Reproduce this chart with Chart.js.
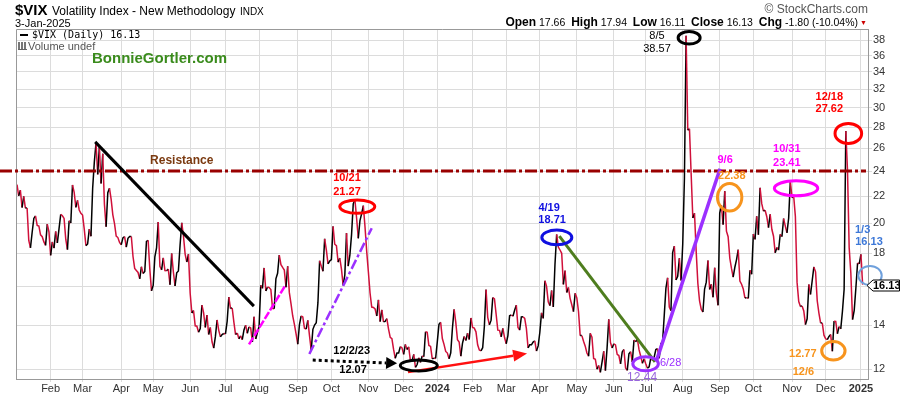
<!DOCTYPE html>
<html>
<head>
<meta charset="utf-8">
<script src="https://cdn.jsdelivr.net/npm/chart.js@4.4.1/dist/chart.umd.min.js"></script>
<style>
body{margin:0;background:#fff;}
#wrap{position:relative;width:900px;height:396px;font-family:Arial,"Liberation Sans",sans-serif;color:#000;}
canvas{position:absolute;left:0;top:0;}
.t{position:absolute;white-space:nowrap;line-height:1;}
.ohlc b{font-size:12px;}
</style>
</head>
<body>
<div id="wrap">
<canvas id="vixChart" width="900" height="396"></canvas>
<div class="t" style="left:15px;top:2px;"><b style="font-size:15px">$VIX</b> <span style="font-size:12px">Volatility Index - New Methodology</span> <span style="font-size:10px">INDX</span></div>
<div class="t" style="left:15px;top:18px;font-size:11px;">3-Jan-2025</div>
<div class="t" style="right:32px;top:3px;font-size:12px;color:#555;">&#169; StockCharts.com</div>
<div class="t ohlc" style="right:42px;top:16px;font-size:10.5px;"><b>Open</b> 17.66 &nbsp;<b>High</b> 17.94 &nbsp;<b>Low</b> 16.11 &nbsp;<b>Close</b> 16.13 &nbsp;<b>Chg</b> -1.80 (-10.04%)</div>
<div class="t" style="left:860px;top:19px;font-size:7px;color:#c00;">&#9660;</div>
<div class="t" style="left:20px;top:30px;font-size:10px;font-family:'DejaVu Sans Mono';"><span style="display:inline-block;width:8px;height:2px;background:#000;vertical-align:middle;margin-right:4px;"></span>$VIX (Daily) 16.13</div>
<div class="t" style="left:18px;top:41px;font-size:11px;color:#555;"><span style="display:inline-block;width:9px;height:7px;border-bottom:1px solid #666;background:linear-gradient(90deg,#777 0 2px,#fff 2px 3px,#777 3px 5px,#fff 5px 6px,#777 6px 8px,#fff 8px);margin-right:1px;"></span>Volume undef</div>
<div class="t" style="left:92px;top:50px;font-size:15px;font-weight:bold;color:#3a8b1c;">BonnieGortler.com</div>
</div>
<script>
// month labels shown on the x axis (first one sits on the left edge and is not drawn)
const monthLabels = ['Jan','Feb','Mar','Apr','May','Jun','Jul','Aug','Sep','Oct','Nov','Dec',
                     '2024','Feb','Mar','Apr','May','Jun','Jul','Aug','Sep','Oct','Nov','Dec','2025'];

// daily closes, one small array per month
const closes2023 = [
  [22.90,22.01,22.46,21.13,21.97,21.09,21.09,18.83,18.35,19.36,20.34,20.52,19.85,19.81,19.20,19.08,18.73,18.51,19.94,19.40],
  [17.87,18.73,18.33,19.43,18.66,19.63,20.63,20.53,20.34,18.91,18.23,20.17,20.02,22.87,22.29,21.14,21.67,20.95,20.70],
  [20.58,19.59,18.49,18.60,19.59,19.11,22.61,24.80,26.52,23.73,26.14,22.99,25.51,21.38,19.75,22.26,22.61,21.74,20.60,19.97,19.12,19.02,18.70],
  [18.55,19.00,19.08,18.40,18.97,19.09,19.09,17.80,17.07,16.95,16.83,16.46,17.17,16.77,16.89,18.76,18.84,17.03,15.78],
  [16.08,17.78,18.34,20.09,17.19,16.98,17.71,16.94,16.93,17.03,16.12,17.99,16.87,16.05,16.81,16.92,18.53,20.03,19.14,17.95,17.46,17.94],
  [15.65,14.60,14.73,13.96,13.94,13.65,13.83,15.01,14.61,13.88,14.50,13.54,13.88,13.20,12.91,13.44,14.25,13.74,13.43,13.54,13.59],
  [13.57,14.18,15.44,14.83,14.86,14.14,13.54,13.61,13.34,13.48,13.30,13.76,13.99,13.60,13.91,13.86,13.19,14.41,13.33,13.63],
  [13.93,16.09,15.92,17.10,15.77,15.99,15.96,15.85,14.84,14.82,16.46,16.78,17.89,17.30,17.13,16.97,15.98,17.20,15.68,15.08,14.45,14.03,13.57],
  [13.09,14.02,14.45,14.40,13.84,13.80,14.23,13.48,12.82,13.79,14.00,14.11,15.14,17.54,17.20,16.90,18.94,18.22,17.34,17.52],
  [17.61,19.78,18.58,18.49,17.45,17.70,17.03,16.09,16.69,19.32,17.21,17.88,19.22,21.40,21.71,20.37,18.97,20.19,20.68,21.27,19.75,18.14],
  [16.87,15.66,14.91,14.89,14.81,14.45,15.29,14.17,14.76,14.16,14.18,14.32,13.80,13.41,13.35,12.85,12.46,12.69,12.69,12.98,12.92],
  [12.63,13.08,12.85,12.97,12.35,12.35,12.63,12.07,12.19,12.48,12.28,12.56,12.53,13.67,13.65,13.03,12.99,12.43,12.47,12.45]
];
const closes2024 = [
  [13.20,14.04,14.13,13.35,13.08,12.76,12.69,12.44,12.70,13.84,14.79,14.13,13.30,13.19,12.55,13.14,13.45,13.26,13.60,13.31,14.35],
  [13.88,13.85,13.67,13.06,12.83,12.79,12.93,13.93,15.85,14.38,14.01,14.24,15.42,15.34,14.54,13.75,13.74,13.43,13.84,13.40],
  [13.11,13.49,14.46,14.50,14.44,14.74,15.01,13.88,13.75,14.40,14.41,14.33,13.82,12.92,13.06,13.06,13.19,13.24,12.78,13.01],
  [13.65,14.61,14.33,16.35,16.03,15.19,14.98,15.80,14.91,17.31,19.23,18.40,18.21,18.00,16.14,16.94,15.69,15.97,15.37,15.03,14.67,15.65],
  [15.39,14.68,13.49,13.49,13.23,13.00,12.69,12.55,13.60,13.42,12.45,12.42,11.99,12.15,11.86,12.29,12.77,11.93,12.92,14.28,13.17,12.92],
  [13.11,13.06,12.63,12.58,12.22,12.74,12.85,12.04,11.94,12.66,12.75,12.30,13.28,13.20,13.33,12.84,12.55,12.24,12.44],
  [12.22,12.03,12.09,12.48,12.37,12.51,12.85,12.89,12.46,13.12,13.19,14.48,15.93,16.52,14.91,14.72,18.04,18.46,16.39,16.60,17.69,16.36],
  [18.59,23.39,38.57,27.71,27.85,23.79,20.37,20.71,18.12,16.19,15.23,14.80,14.65,15.88,16.27,17.55,15.86,16.15,15.43,17.11,15.65,15.00],
  [20.72,21.32,19.90,22.38,19.45,19.08,17.69,17.07,16.56,17.14,17.61,18.23,16.33,16.15,15.89,15.39,15.41,15.37,16.96,16.73],
  [19.26,18.90,20.49,19.21,22.64,21.42,20.86,20.93,20.46,19.70,20.64,19.58,19.11,18.03,18.37,18.20,19.24,19.08,20.33,19.80,19.34,20.35,23.16],
  [21.88,21.98,20.49,16.27,15.20,14.94,14.97,14.71,14.02,14.31,16.14,15.58,16.35,17.16,16.87,15.24,14.60,14.10,14.10,13.51],
  [13.34,13.30,13.45,13.54,12.77,14.19,14.18,13.58,13.92,13.81,14.69,15.87,27.62,24.09,18.36,16.78,14.27,14.73,15.95,17.40,17.35]
];
const closes2025 = [
  [17.93,16.13]
];

const yTicks = [12,14,16,18,20,22,24,26,28,30,32,34,36,38];

// drawn-on markup, placed in chart units: [trading day index, VIX value]
const resistanceLevel = 24;
const trendLines = [
  {from:[46.5,26.6],  to:[140.9,14.96], color:'#000000', width:3},
  {from:[138,13.08],  to:[159.4,16.05], color:'#ff00ff', width:2.5, dash:[8,2]},
  {from:[173.9,12.65],to:[211,19.65],   color:'#9b30ff', width:2.5, dash:[10,3,3,3]},
  {from:[322.6,19.12],to:[379.5,12.30], color:'#4e7d1e', width:3},
  {from:[380.5,12.38],to:[418.2,24.2],  color:'#9b30ff', width:3.5}
];
const arrows = [
  {from:[175.9,12.38],to:[226.1,12.24], color:'#000000', width:3, dash:[3,3], head:[11,6]},
  {from:[232.6,11.87],to:[303.4,12.67], color:'#ff1010', width:2.5, head:[14,6]}
];
const rings = [
  {at:[202.4,21.2], rx:17.5, ry:6.7, color:'#ff0000'},
  {at:[239,12.15],  rx:18.5, ry:5.5, color:'#000000'},
  {at:[321.1,19.03],rx:15,   ry:7.3, color:'#1010e0'},
  {at:[373.9,12.22],rx:12.8, ry:7,   color:'#9b30ff'},
  {at:[399.8,38.3], rx:11,   ry:6.3, color:'#000000'},
  {at:[423.9,21.9], rx:12.2, ry:13.7,color:'#f7941d'},
  {at:[463.4,22.6], rx:21.7, ry:7.5, color:'#ff00ff'},
  {at:[494.5,27.4], rx:13.3, ry:10,  color:'#ff0000'},
  {at:[485.6,12.79],rx:11.7, ry:9.2, color:'#f7941d'},
  {at:[507.4,16.65],rx:11.7, ry:9.5, color:'#6fa0dc', width:2}
];
const notes = [
  {at:[98,24.9],    text:'Resistance', color:'#7b3a10', font:'bold 12px Arial'},
  {at:[196.3,23.4], text:'10/21',  color:'#ff0000'},
  {at:[196.3,22.3], text:'21.27',  color:'#ff0000'},
  {at:[199.1,12.78],text:'12/2/23',color:'#000000'},
  {at:[199.9,11.96],text:'12.07',  color:'#000000'},
  {at:[316.5,21.1], text:'4/19',   color:'#1010e0'},
  {at:[318.3,20.2], text:'18.71',  color:'#1010e0'},
  {at:[388.8,12.24],text:'6/28',   color:'#9b30ff', font:'11px Arial'},
  {at:[371.8,11.63],text:'12.44',  color:'#9966dd', font:'12px Arial'},
  {at:[380.7,38.6], text:'8/5',    color:'#000000', font:'11px Arial'},
  {at:[380.7,36.8], text:'38.57',  color:'#000000', font:'11px Arial'},
  {at:[421.2,25.0], text:'9/6',    color:'#ff00ff'},
  {at:[425.2,23.6], text:'22.38',  color:'#f7941d'},
  {at:[457.9,25.9], text:'10/31',  color:'#ff00ff'},
  {at:[457.9,24.7], text:'23.41',  color:'#ff00ff'},
  {at:[483.2,31.1], text:'12/18',  color:'#ff0000'},
  {at:[483.2,29.8], text:'27.62',  color:'#ff0000'},
  {at:[467.4,12.63],text:'12.77',  color:'#f7941d'},
  {at:[467.8,11.89],text:'12/6',   color:'#f7941d'},
  {at:[503,19.53],  text:'1/3',    color:'#3d78d8'},
  {at:[506.8,18.75],text:'16.13',  color:'#3d78d8'}
];

// flatten months into one daily series, remember where each month starts
const monthly = [...closes2023, ...closes2024, ...closes2025];
const closes = monthly.flat();
const monthStarts = [];
let run = 0;
monthly.forEach(m => { monthStarts.push(run); run += m.length; });
const tickLabel = {};
monthStarts.forEach((s, i) => { tickLabel[s] = monthLabels[i]; });

const RED = '#d0103a';

const annotate = {
  id: 'annotate',
  afterDraw(chart) {
    const {ctx, chartArea: a, scales: {x, y}} = chart;
    const px = p => [x.getPixelForValue(p[0]), y.getPixelForValue(p[1])];
    ctx.save();

    // plot frame left + top
    ctx.strokeStyle = '#999'; ctx.lineWidth = 1;
    ctx.beginPath();
    ctx.moveTo(a.left + 0.5, a.bottom); ctx.lineTo(a.left + 0.5, a.top + 0.5); ctx.lineTo(a.right, a.top + 0.5);
    ctx.stroke();

    // resistance
    const ry = Math.round(y.getPixelForValue(resistanceLevel));
    ctx.strokeStyle = '#990000'; ctx.lineWidth = 3; ctx.setLineDash([12,3,3,3]);
    ctx.beginPath(); ctx.moveTo(0, ry); ctx.lineTo(a.right - 2, ry); ctx.stroke();
    ctx.setLineDash([]);

    trendLines.forEach(l => {
      const p0 = px(l.from), p1 = px(l.to);
      ctx.strokeStyle = l.color; ctx.lineWidth = l.width; ctx.setLineDash(l.dash || []);
      ctx.beginPath(); ctx.moveTo(p0[0], p0[1]); ctx.lineTo(p1[0], p1[1]); ctx.stroke();
    });
    ctx.setLineDash([]);

    arrows.forEach(l => {
      const p0 = px(l.from), p1 = px(l.to);
      const ang = Math.atan2(p1[1] - p0[1], p1[0] - p0[0]);
      const [len, half] = l.head;
      const bx = p1[0] - len * Math.cos(ang), by = p1[1] - len * Math.sin(ang);
      ctx.strokeStyle = l.color; ctx.fillStyle = l.color; ctx.lineWidth = l.width; ctx.setLineDash(l.dash || []);
      ctx.beginPath(); ctx.moveTo(p0[0], p0[1]); ctx.lineTo(bx, by); ctx.stroke();
      ctx.setLineDash([]);
      ctx.beginPath();
      ctx.moveTo(p1[0], p1[1]);
      ctx.lineTo(bx + half * Math.sin(ang), by - half * Math.cos(ang));
      ctx.lineTo(bx - half * Math.sin(ang), by + half * Math.cos(ang));
      ctx.closePath(); ctx.fill();
    });

    rings.forEach(r => {
      const c = px(r.at);
      ctx.strokeStyle = r.color; ctx.lineWidth = r.width || 3;
      ctx.beginPath(); ctx.ellipse(c[0], c[1], r.rx, r.ry, 0, 0, Math.PI * 2); ctx.stroke();
    });

    ctx.textAlign = 'center'; ctx.textBaseline = 'middle';
    notes.forEach(n => {
      const c = px(n.at);
      ctx.font = n.font || 'bold 11px Arial';
      ctx.fillStyle = n.color;
      ctx.fillText(n.text, c[0], c[1]);
    });

    // last value tag on the right axis
    const last = closes[closes.length - 1];
    const ly = Math.round(y.getPixelForValue(last)) + 0.5;
    const lx = a.right + 1;
    ctx.fillStyle = '#fff'; ctx.strokeStyle = '#000'; ctx.lineWidth = 1;
    ctx.beginPath();
    ctx.moveTo(lx - 2, ly); ctx.lineTo(lx + 4, ly - 5.5); ctx.lineTo(899.5, ly - 5.5);
    ctx.lineTo(899.5, ly + 5.5); ctx.lineTo(lx + 4, ly + 5.5); ctx.closePath();
    ctx.fill(); ctx.stroke();
    ctx.fillStyle = '#000'; ctx.font = 'bold 11px Arial'; ctx.textAlign = 'left';
    ctx.fillText(last.toFixed(2), lx + 4, ly + 0.5);

    ctx.restore();
  }
};

new Chart(document.getElementById('vixChart'), {
  type: 'line',
  data: {
    datasets: [{
      data: closes.map((v, i) => ({x: i, y: v})),
      borderColor: RED,
      borderWidth: 1.5,
      pointRadius: 0,
      tension: 0,
      segment: { borderColor: c => c.p1.parsed.y >= c.p0.parsed.y ? '#000' : RED }
    }]
  },
  options: {
    responsive: false,
    animation: false,
    devicePixelRatio: 1,
    layout: { padding: { left: 16, top: 29, right: 0, bottom: 0 } },
    plugins: { legend: { display: false }, tooltip: { enabled: false } },
    scales: {
      x: {
        type: 'linear', min: -0.6, max: 506.2,
        afterBuildTicks: s => { s.ticks = monthStarts.slice(1).map(v => ({value: v})); },
        afterFit: s => { s.height = 17; },
        grid: { color: '#dcdcdc', tickLength: 3 },
        border: { color: '#999' },
        ticks: {
          autoSkip: false, maxRotation: 0, padding: 0, color: '#333',
          font: c => ({ family: 'Arial', size: 11, weight: (c.tick && /^\d{4}$/.test(c.tick.label)) ? 'bold' : 'normal' }),
          callback: v => tickLabel[v] || ''
        }
      },
      y: {
        type: 'logarithmic', position: 'right', min: 11.587, max: 39.5,
        afterBuildTicks: s => { s.ticks = yTicks.map(v => ({value: v})); },
        afterFit: s => { s.width = 32; },
        grid: { color: '#dcdcdc', tickLength: 4 },
        border: { color: '#999' },
        ticks: { padding: 1, color: '#333', font: { family: 'Arial', size: 11 }, callback: v => String(v) }
      }
    }
  },
  plugins: [annotate]
});
</script>
</body>
</html>
